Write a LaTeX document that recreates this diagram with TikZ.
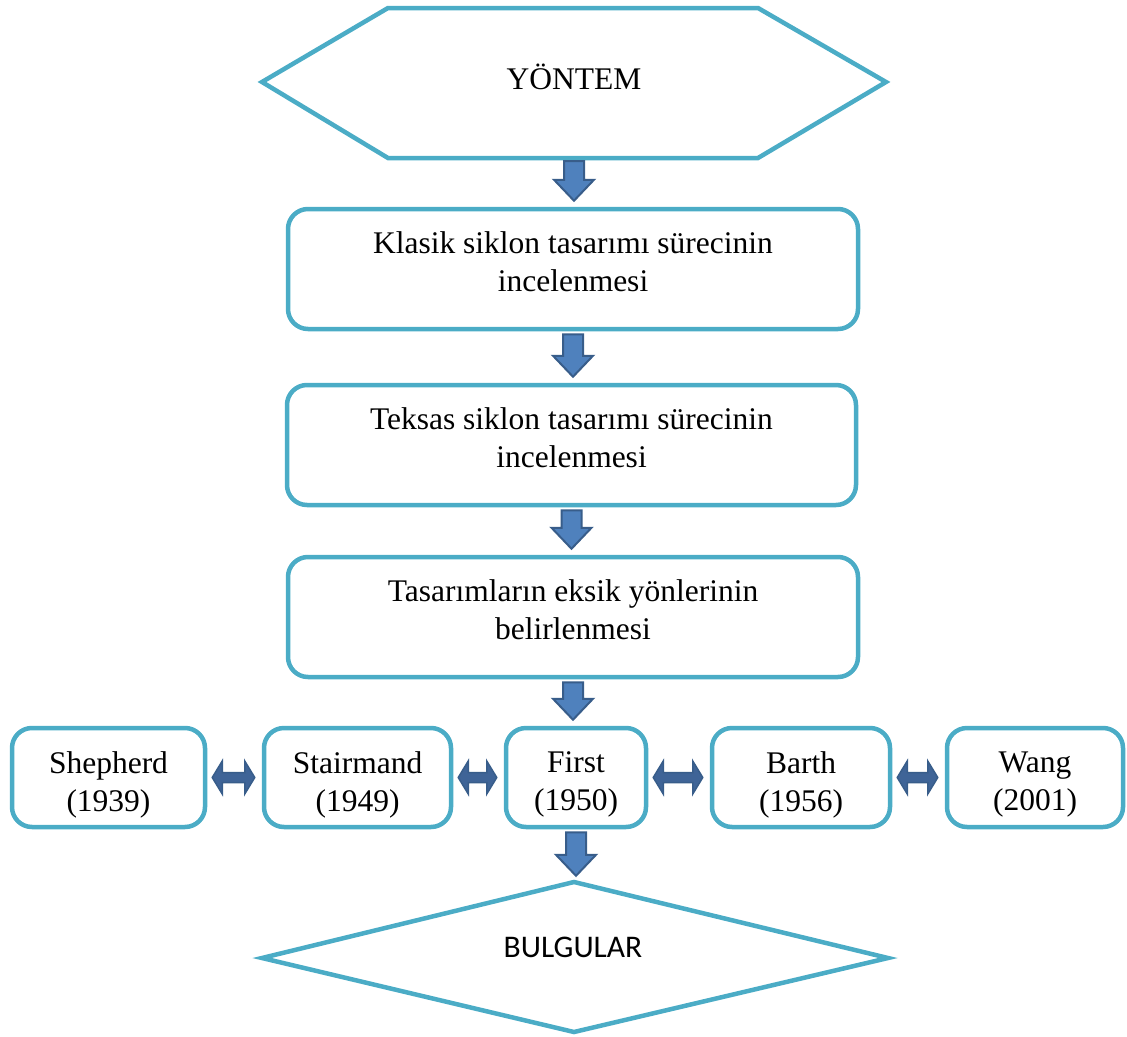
\documentclass[tikz,border=0pt]{standalone}
\usepackage{fontspec}
\setmainfont{Liberation Serif}
\newfontfamily\carlito{Carlito}
\usetikzlibrary{calc}
\definecolor{bordercol}{HTML}{4BACC6}
\definecolor{arrfill}{HTML}{4F81BD}
\definecolor{arrdraw}{HTML}{385D8A}
\definecolor{harrfill}{HTML}{3F6497}
\tikzset{
 box/.style={draw=bordercol, line width=4.5pt, rounded corners=20pt, inner sep=0pt},
 outline/.style={draw=bordercol, line width=4.5pt, line join=miter},
 blockarrow/.style={fill=arrfill, draw=arrdraw, line width=2pt, line join=miter},
 hblockarrow/.style={fill=harrfill, draw=arrdraw, line width=1.5pt, line join=miter},
 txt/.style={inner sep=0pt, align=center, font=\fontsize{31.5}{38}\selectfont},
 maintxt/.style={label={[txt, yshift=7.5pt]center:{#1}}},
 rowtxt/.style={label={[txt, yshift=-7pt]center:{#1}}},
}
\newcommand\vblock[2]{%
 \path[blockarrow] let \p1=(#1.south), \p2=(#2.north) in
 (\x1-10pt,\y1-3pt) -- (\x1+10pt,\y1-3pt) -- (\x1+10pt,\y2+27pt) -- (\x1+20pt,\y2+27pt)
 -- (\x1,\y2+6pt) -- (\x1-20pt,\y2+27pt) -- (\x1-10pt,\y2+27pt) -- cycle;}
\newcommand\hblock[2]{%
 \path[hblockarrow] let \p1=(#1.east), \p2=(#2.west) in
 (\x1+5pt,\y1) -- (\x1+15pt,\y1+16.5pt) -- (\x1+15pt,\y1+5pt) -- (\x2-17pt,\y1+5pt)
 -- (\x2-17pt,\y1+16.5pt) -- (\x2-7pt,\y1) -- (\x2-17pt,\y1-16.5pt) -- (\x2-17pt,\y1-5pt)
 -- (\x1+15pt,\y1-5pt) -- (\x1+15pt,\y1-16.5pt) -- cycle;}
\begin{document}
\begin{tikzpicture}[x=1pt,y=-1pt]
\useasboundingbox (0,0) rectangle (1127,1036);
% top hexagon
\draw[outline] (262,82) -- (388,8) -- (758,8) -- (886,82) -- (758,158) -- (388,158) -- cycle;
\node[inner sep=0pt, minimum width=624pt, minimum height=150pt,
  label={[txt, yshift=6pt]center:YÖNTEM}] (hex) at (574,83) {};
% main boxes
\node[box, minimum width=570pt, minimum height=120pt,
  maintxt={Klasik siklon tasarımı sürecinin\\incelenmesi}] (b1) at (573,269) {};
\node[box, minimum width=569pt, minimum height=120pt,
  maintxt={Teksas siklon tasarımı sürecinin\\incelenmesi}] (b2) at (571.5,445) {};
\node[box, minimum width=570pt, minimum height=120pt,
  maintxt={Tasarımların eksik yönlerinin\\belirlenmesi}] (b3) at (573,617) {};
% row
\node[box, minimum width=193pt, minimum height=99pt, rowtxt={Shepherd\\(1939)}] (shep) at (108.5,777.5) {};
\node[box, minimum width=187pt, minimum height=99pt, rowtxt={Stairmand\\(1949)}] (stair) at (357.5,777.5) {};
\node[box, minimum width=140pt, minimum height=99pt, rowtxt={First\\(1950)}] (first) at (576,777.5) {};
\node[box, minimum width=178pt, minimum height=99pt, rowtxt={Barth\\(1956)}] (barth) at (801,777.5) {};
\node[box, minimum width=176pt, minimum height=99pt, rowtxt={Wang\\(2001)}] (wang) at (1035,777.5) {};
% bottom diamond
\draw[outline] (574,882) -- (888,958) -- (574,1032) -- (262,958) -- cycle;
\node[inner sep=0pt, minimum width=626pt, minimum height=150pt,
  label={[inner sep=0pt, font=\carlito\fontsize{31.5}{36}\selectfont, yshift=10pt, xshift=-2pt]center:BULGULAR}]
  (res) at (575,957) {};
% arrows
\vblock{hex}{b1}
\vblock{b1}{b2}
\vblock{b2}{b3}
\vblock{b3}{first}
\vblock{first}{res}
\hblock{shep}{stair}
\hblock{stair}{first}
\hblock{first}{barth}
\hblock{barth}{wang}
\end{tikzpicture}
\end{document}
